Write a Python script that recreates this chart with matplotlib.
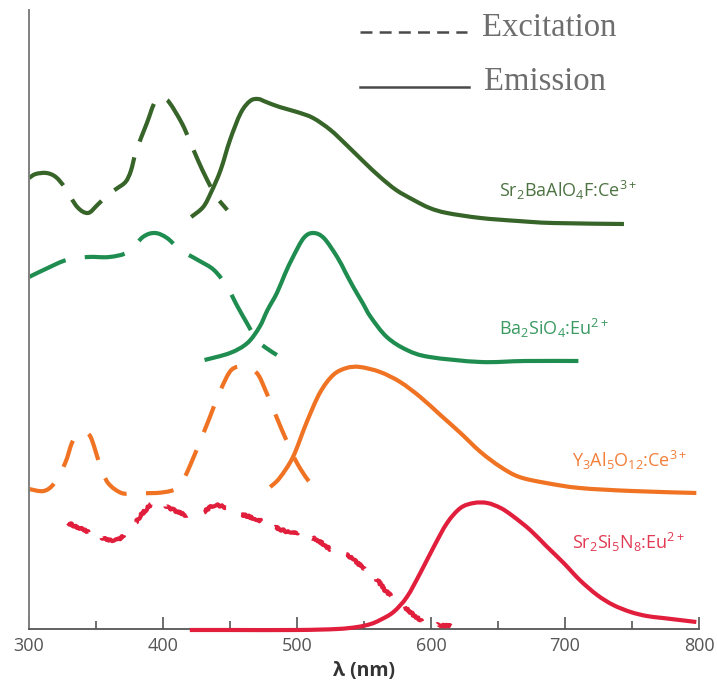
import numpy as np
import matplotlib
matplotlib.use('Agg')
import matplotlib.pyplot as plt
from matplotlib.path import Path
from matplotlib.patches import PathPatch
from matplotlib.ticker import MultipleLocator

plt.rcParams['font.family'] = ['Open Sans', 'DejaVu Sans']
plt.rcParams['mathtext.default'] = 'regular'
plt.rcParams['lines.scale_dashes'] = False

# spectra, wavelength in nm and stacked intensity (a.u.)
sbaf_exc_x = [300, 305, 313, 320, 327, 336, 344, 351, 358, 365, 372, 376, 380, 388, 394, 400,
              405, 414, 420, 426, 433, 440, 448]
sbaf_exc_y = [451, 455, 456, 452, 441, 422, 416, 424, 433, 440, 447, 458, 478, 506, 527, 531,
              526, 506, 488, 469, 449, 432, 419]
sbaf_em_x = [421, 430, 436, 443, 450, 458, 465, 471, 477, 487, 500, 512, 525, 537, 550, 562,
             574, 587, 599, 612, 637, 665, 691, 744]
sbaf_em_y = [412, 422, 437, 459, 489, 516, 528, 530, 527, 522, 517, 511, 499, 484, 467, 452,
             439, 429, 421, 416, 411, 408, 406, 405]

bso_exc_x = [300, 314, 328, 344, 360, 374, 385, 394, 403, 413, 426, 438, 448, 455, 463, 470,
             477, 485]
bso_exc_y = [352, 361, 369, 372, 372, 377, 392, 396, 391, 379, 369, 359, 342, 324, 305, 289,
             281, 274]
bso_em_x = [431, 450, 463, 472, 478, 485, 491, 497, 505, 512, 520, 530, 536, 542, 549, 555,
            567, 582, 599, 637, 670, 710]
bso_em_y = [269, 276, 286, 302, 319, 336, 355, 372, 391, 396, 391, 372, 357, 342, 326, 312,
            292, 279, 272, 267, 268, 268]

yag_exc_x = [300, 311, 319, 327, 332, 336, 341, 346, 353, 359, 369, 378, 395, 408, 414, 421,
             429, 435, 443, 451, 460, 470, 477, 485, 492, 500, 510, 519]
yag_exc_y = [140, 138, 146, 166, 186, 194, 196, 192, 164, 146, 136, 136, 136, 139, 146, 166,
             192, 212, 239, 259, 262, 256, 237, 211, 189, 166, 146, 138]
yag_em_x = [480, 487, 497, 507, 517, 527, 537, 547, 562, 577, 592, 607, 622, 637, 652, 666,
            686, 711, 750, 798]
yag_em_y = [142, 151, 172, 206, 236, 254, 261, 262, 257, 247, 232, 214, 196, 177, 162, 152,
            146, 141, 138, 136]

ssn_exc_x = [329, 341, 353, 365, 375, 385, 395, 408, 420, 430, 440, 455, 465, 477, 491, 502,
             515, 526, 537, 547, 558, 567, 578, 589, 600, 615]
ssn_exc_y = [106, 99, 92, 89, 99, 116, 127, 119, 113, 117, 124, 116, 112, 106, 98, 96,
             89, 79, 74, 64, 52, 37, 25, 12, 5, 3]
ssn_em_x = [420, 450, 500, 530, 545, 555, 562, 572, 582, 592, 602, 612, 622, 632, 642, 652,
            661, 674, 686, 699, 711, 724, 736, 749, 761, 773, 798]
ssn_em_y = [-1, -1, -1, 0, 2, 5, 9, 17, 32, 56, 82, 106, 121, 126, 126, 121,
            113, 99, 83, 66, 49, 34, 24, 17, 13, 11, 7]

names = [r'Sr$_2$BaAlO$_4$F:Ce$^{3+}$', r'Ba$_2$SiO$_4$:Eu$^{2+}$',
         r'Y$_3$Al$_5$O$_{12}$:Ce$^{3+}$', r'Sr$_2$Si$_5$N$_8$:Eu$^{2+}$']
xticks = [300, 400, 500, 600, 700, 800]

line_colors = ['#376428', '#1f8c50', '#f07323', '#e11e3c']
text_colors = ['#4d7341', '#3a9a62', '#f27f3a', '#e23a52']
dash_styles = [(0, (29, 12)), (0, (29, 14)), (0, (20, 14)), (0, (22, 15))]
label_pos = [(651, 432), (651, 294), (705, 162), (705, 80)]


def smooth_path(x, y):
    """Catmull-Rom curve through the given points, as cubic Bezier segments."""
    p = np.column_stack([x, y]).astype(float)
    ext = np.vstack([p[0], p, p[-1]])
    verts = [p[0]]
    codes = [Path.MOVETO]
    for i in range(len(p) - 1):
        p0, p1, p2, p3 = ext[i], ext[i + 1], ext[i + 2], ext[i + 3]
        verts += [p1 + (p2 - p0) / 6, p2 - (p3 - p1) / 6, p2]
        codes += [Path.CURVE4] * 3
    return Path(verts, codes)


fig = plt.figure(figsize=(7.17, 6.91), dpi=100)
ax = fig.add_axes([29 / 717, 62 / 691, 670 / 717, 619 / 691])

spectra = [(sbaf_exc_x, sbaf_exc_y, sbaf_em_x, sbaf_em_y),
           (bso_exc_x, bso_exc_y, bso_em_x, bso_em_y),
           (yag_exc_x, yag_exc_y, yag_em_x, yag_em_y),
           (ssn_exc_x, ssn_exc_y, ssn_em_x, ssn_em_y)]

lw = 3.0
for i, (ex, ey, mx, my) in enumerate(spectra):
    c = line_colors[i]
    z = 4 if i == 3 else 2
    exc = PathPatch(smooth_path(ex, ey), fill=False, edgecolor=c, lw=lw,
                    linestyle=dash_styles[i], capstyle='butt', joinstyle='round',
                    zorder=z, clip_on=False)
    em = PathPatch(smooth_path(mx, my), fill=False, edgecolor=c, lw=lw,
                   capstyle='butt', joinstyle='round', zorder=z, clip_on=False)
    if i == 3:
        # measured nitride excitation is noisy
        exc.set_sketch_params(scale=1.0, length=4, randomness=3)
    ax.add_patch(exc)
    ax.add_patch(em)
    lx, ly = label_pos[i]
    ax.text(lx, ly, names[i], color=text_colors[i], fontsize=13, va='baseline', ha='left')

# legend drawn by hand, serif like the original figure
ax.plot([0.494, 0.654], [0.9645, 0.9645], transform=ax.transAxes, color='#4a4a4a',
        lw=1.8, linestyle=(0, (8.6, 5.2)), clip_on=False)
ax.plot([0.494, 0.656], [0.8756, 0.8756], transform=ax.transAxes, color='#4a4a4a',
        lw=1.8, clip_on=False)
ax.text(0.676, 0.971, 'Excitation', transform=ax.transAxes, fontsize=23.5,
        family='Liberation Serif', color='#6e6e6e', va='center', ha='left')
ax.text(0.679, 0.884, 'Emission', transform=ax.transAxes, fontsize=23.5,
        family='Liberation Serif', color='#6e6e6e', va='center', ha='left')

ax.set_xlim(300, 800)
ax.set_ylim(0, 619)
ax.set_xticks(xticks)
ax.xaxis.set_minor_locator(MultipleLocator(50))
ax.set_yticks([])
ax.tick_params(axis='x', which='major', direction='in', length=9, width=1.2,
               colors='#555555', labelsize=13, pad=6)
ax.tick_params(axis='x', which='minor', direction='in', length=6, width=1.2,
               colors='#555555')
ax.set_xlabel('λ (nm)', fontsize=14, fontweight='bold', color='#333333', labelpad=4)

for s in ['top', 'right']:
    ax.spines[s].set_visible(False)
ax.spines['left'].set_color('#808080')
ax.spines['left'].set_linewidth(1.4)
ax.spines['bottom'].set_color('#555555')
ax.spines['bottom'].set_linewidth(1.3)

fig.savefig('out.png', dpi=100)
